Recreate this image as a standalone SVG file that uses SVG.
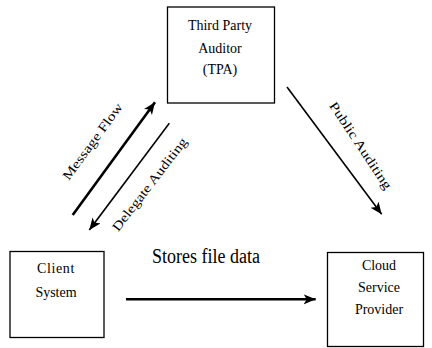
<svg xmlns="http://www.w3.org/2000/svg" width="432" height="348" viewBox="0 0 432 348">
<style>
.box{fill:#fff;stroke:#000;stroke-width:1.3}
.t{font-family:"Liberation Serif","Times New Roman",serif;font-size:14px;fill:#000;text-anchor:middle}
.lbl{font-family:"Liberation Serif","Times New Roman",serif;font-size:13px;fill:#000;text-anchor:middle}
.thick{stroke:#000;stroke-width:2.6;fill:none}
.thin{stroke:#000;stroke-width:1.6;fill:none}
</style>
<defs>
<marker id="ah" markerUnits="userSpaceOnUse" markerWidth="14" markerHeight="12" refX="12" refY="5" orient="auto" viewBox="0 0 14 12">
<path d="M0,0 L12,5 L0,10 L3,5 Z" fill="#000"/>
</marker>
</defs>
<rect width="432" height="348" fill="#fff"/>
<g id="tpa">
<rect class="box" x="167.5" y="7" width="107" height="96"/>
<text class="t" x="220" y="30">Third Party</text>
<text class="t" x="220" y="53">Auditor</text>
<text class="t" x="220" y="74">(TPA)</text>
</g>
<g id="client">
<rect class="box" x="10" y="251.5" width="94" height="86"/>
<text class="t" x="56" y="273" letter-spacing="0.6">Client</text>
<text class="t" x="56" y="296.5">System</text>
</g>
<g id="csp">
<rect class="box" x="327.5" y="252.5" width="96" height="94"/>
<text class="t" x="379" y="270">Cloud</text>
<text class="t" x="379" y="292">Service</text>
<text class="t" x="379" y="314">Provider</text>
</g>
<g id="connectors">
<line class="thick" x1="72.7" y1="215" x2="155" y2="102.3" marker-end="url(#ah)"/>
<line class="thin" x1="169.3" y1="123.3" x2="89.3" y2="230" marker-end="url(#ah)"/>
<line class="thin" x1="287" y1="87" x2="381.7" y2="214.3" marker-end="url(#ah)"/>
<line class="thick" x1="126" y1="299.3" x2="315.7" y2="299.3" marker-end="url(#ah)"/>
<text class="lbl" transform="translate(96,144) rotate(-53.5)" textLength="92" lengthAdjust="spacingAndGlyphs">Message Flow</text>
<text class="lbl" transform="translate(153,187) rotate(-52.4)" textLength="114" lengthAdjust="spacingAndGlyphs">Delegate Auditing</text>
<text class="lbl" transform="translate(357,148) rotate(56.3)" textLength="102" lengthAdjust="spacingAndGlyphs">Public Auditing</text>
<text class="t" transform="translate(206,262.7) scale(1,1.2)" style="font-size:18px">Stores file data</text>
</g>
</svg>
